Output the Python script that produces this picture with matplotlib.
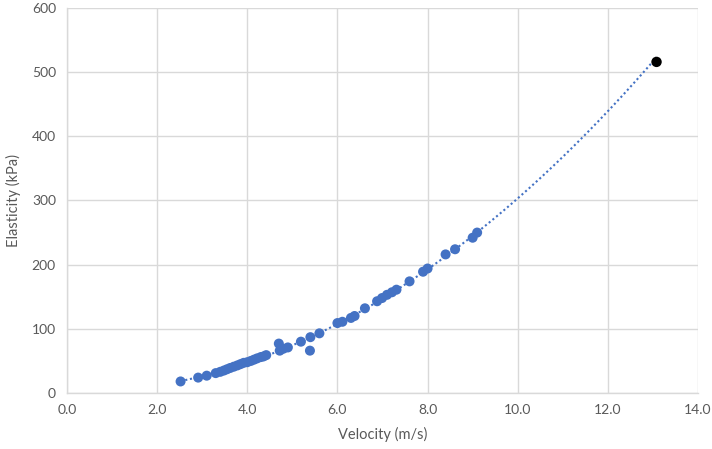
import matplotlib
matplotlib.use("Agg")
import matplotlib.pyplot as plt
import numpy as np

velocity = [2.52, 2.91, 3.10, 3.30, 3.40, 3.48, 3.55, 3.62, 3.70, 3.78, 3.85,
            3.92, 4.00, 4.08, 4.15, 4.22, 4.30, 4.36, 4.42, 4.70, 4.72, 4.80,
            4.90, 5.19, 5.40, 5.39, 5.60, 6.00, 6.11, 6.30, 6.38, 6.61, 6.88,
            6.99, 7.10, 7.21, 7.31, 7.60, 7.90, 8.00, 8.40, 8.61, 9.00, 9.10]
elasticity = [18, 24, 27, 31, 33, 35, 37, 39, 41, 43, 45,
              47, 48, 50, 52, 54, 56, 57, 59, 77, 66, 69,
              71, 80, 87, 66, 93, 109, 111, 117, 120, 132, 143,
              148, 153, 157, 161, 174, 189, 194, 216, 224, 242, 250]
# Highlighted point
hi_velocity = [13.08]
hi_elasticity = [516]

blue = "#4472C4"
grey_text = "#595959"
grid_col = "#D9D9D9"

plt.rcParams["font.family"] = ["Lato", "DejaVu Sans"]

fig = plt.figure(figsize=(7.12, 4.49), dpi=100)
# axes box in figure pixels: left 67, right 698, bottom 393, top 8
ax = fig.add_axes([67 / 712, 56 / 449, 631 / 712, 385 / 449])

# Power trendline through all points (Excel-style)
all_v = np.array(velocity + hi_velocity)
all_e = np.array(elasticity + hi_elasticity)
b, log_a = np.polyfit(np.log(all_v), np.log(all_e), 1)
xs = np.linspace(all_v.min(), all_v.max(), 200)
ax.plot(xs, np.exp(log_a) * xs ** b, color=blue, lw=1.5,
        linestyle=(0, (1, 1.3)), zorder=2)

ax.scatter(velocity, elasticity, s=52, color=blue, edgecolors="none", zorder=3)
ax.scatter(hi_velocity, hi_elasticity, s=56, color="black", edgecolors="none", zorder=4)

ax.set_xlim(0, 14)
ax.set_ylim(0, 600)
ax.set_xticks(np.arange(0, 14.1, 2))
ax.set_xticklabels([f"{v:.1f}" for v in np.arange(0, 14.1, 2)])
ax.set_yticks(np.arange(0, 601, 100))

ax.grid(True, color=grid_col, lw=1)
ax.set_axisbelow(True)
for side in ["top", "right"]:
    ax.spines[side].set_visible(False)
for side in ["left", "bottom"]:
    ax.spines[side].set_color(grid_col)
    ax.spines[side].set_linewidth(1)

ax.tick_params(length=0, labelsize=10, colors=grey_text, pad=8)
ax.set_xlabel("Velocity (m/s)", fontsize=10.5, color=grey_text, labelpad=8)
ax.set_ylabel("Elasticity (kPa)", fontsize=10.5, color=grey_text, labelpad=8)

fig.savefig("out.png", dpi=100)
